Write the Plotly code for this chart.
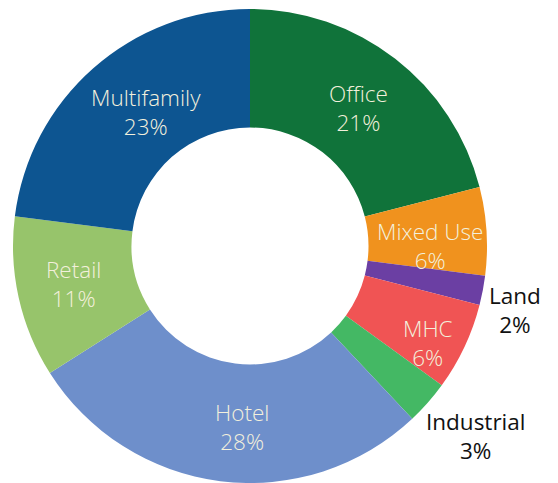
import math
import plotly.graph_objects as go

# ---- data ----
categories = ["Office", "Mixed Use", "Land", "MHC", "Industrial", "Hotel", "Retail", "Multifamily"]
shares = [21, 6, 2, 6, 3, 28, 11, 23]

# ---- styles ----
colors = ["#10733a", "#f0921e", "#6b3fa3", "#f05454", "#44b864", "#6e8fcb", "#97c46b", "#0d5591"]
label_colors = ["#f3f0dc", "#f3f0dc", "#111111", "#f3f0dc", "#111111", "#f3f0dc", "#f3f0dc", "#f3f0dc"]
label_weight = [300, 300, 400, 300, 400, 300, 300, 300]
label_radius = [0.742, 0.76, 1.15, 0.855, 1.243, 0.765, 0.76, 0.717]   # fraction of outer radius
label_shift = [0.5, 3.6, 2.8, 3.4, -1.2, -4.7, 0.4, 3.6]              # degrees

W, H = 558, 483
dom_x = [13 / W, 487 / W]
dom_y = [0, 474 / H]

fig = go.Figure(go.Pie(
    labels=categories,
    values=shares,
    marker=dict(colors=colors, line=dict(width=0)),
    hole=0.5,
    sort=False,
    direction="clockwise",
    rotation=0,
    textinfo="none",
    showlegend=False,
    domain=dict(x=dom_x, y=dom_y),
))

# label placement derived from the slice angles
cx = (dom_x[0] + dom_x[1]) / 2 * W
cy = (1 - (dom_y[0] + dom_y[1]) / 2) * H
R = min((dom_x[1] - dom_x[0]) * W, (dom_y[1] - dom_y[0]) * H) / 2
total = sum(shares)
cum = 0
annotations = []
for i, (cat, v) in enumerate(zip(categories, shares)):
    mid = (cum + v / 2) / total * 360 + label_shift[i]
    cum += v
    th = math.radians(mid)
    px = cx + R * label_radius[i] * math.sin(th)
    py = cy - R * label_radius[i] * math.cos(th)
    annotations.append(dict(
        x=px / W, y=1 - py / H, xref="paper", yref="paper",
        text=f"{cat}<br>{round(v / total * 100)}%",
        showarrow=False, xanchor="center", yanchor="middle",
        font=dict(family="Open Sans", size=22.5, color=label_colors[i], weight=label_weight[i]),
    ))

fig.update_layout(
    width=W, height=H,
    margin=dict(l=0, r=0, t=0, b=0),
    paper_bgcolor="white", plot_bgcolor="white",
    annotations=annotations,
)

fig.write_html(
    "out.html",
    config={"displayModeBar": False},
    post_script="document.body.style.margin='0px';document.body.style.overflow='hidden';",
)
